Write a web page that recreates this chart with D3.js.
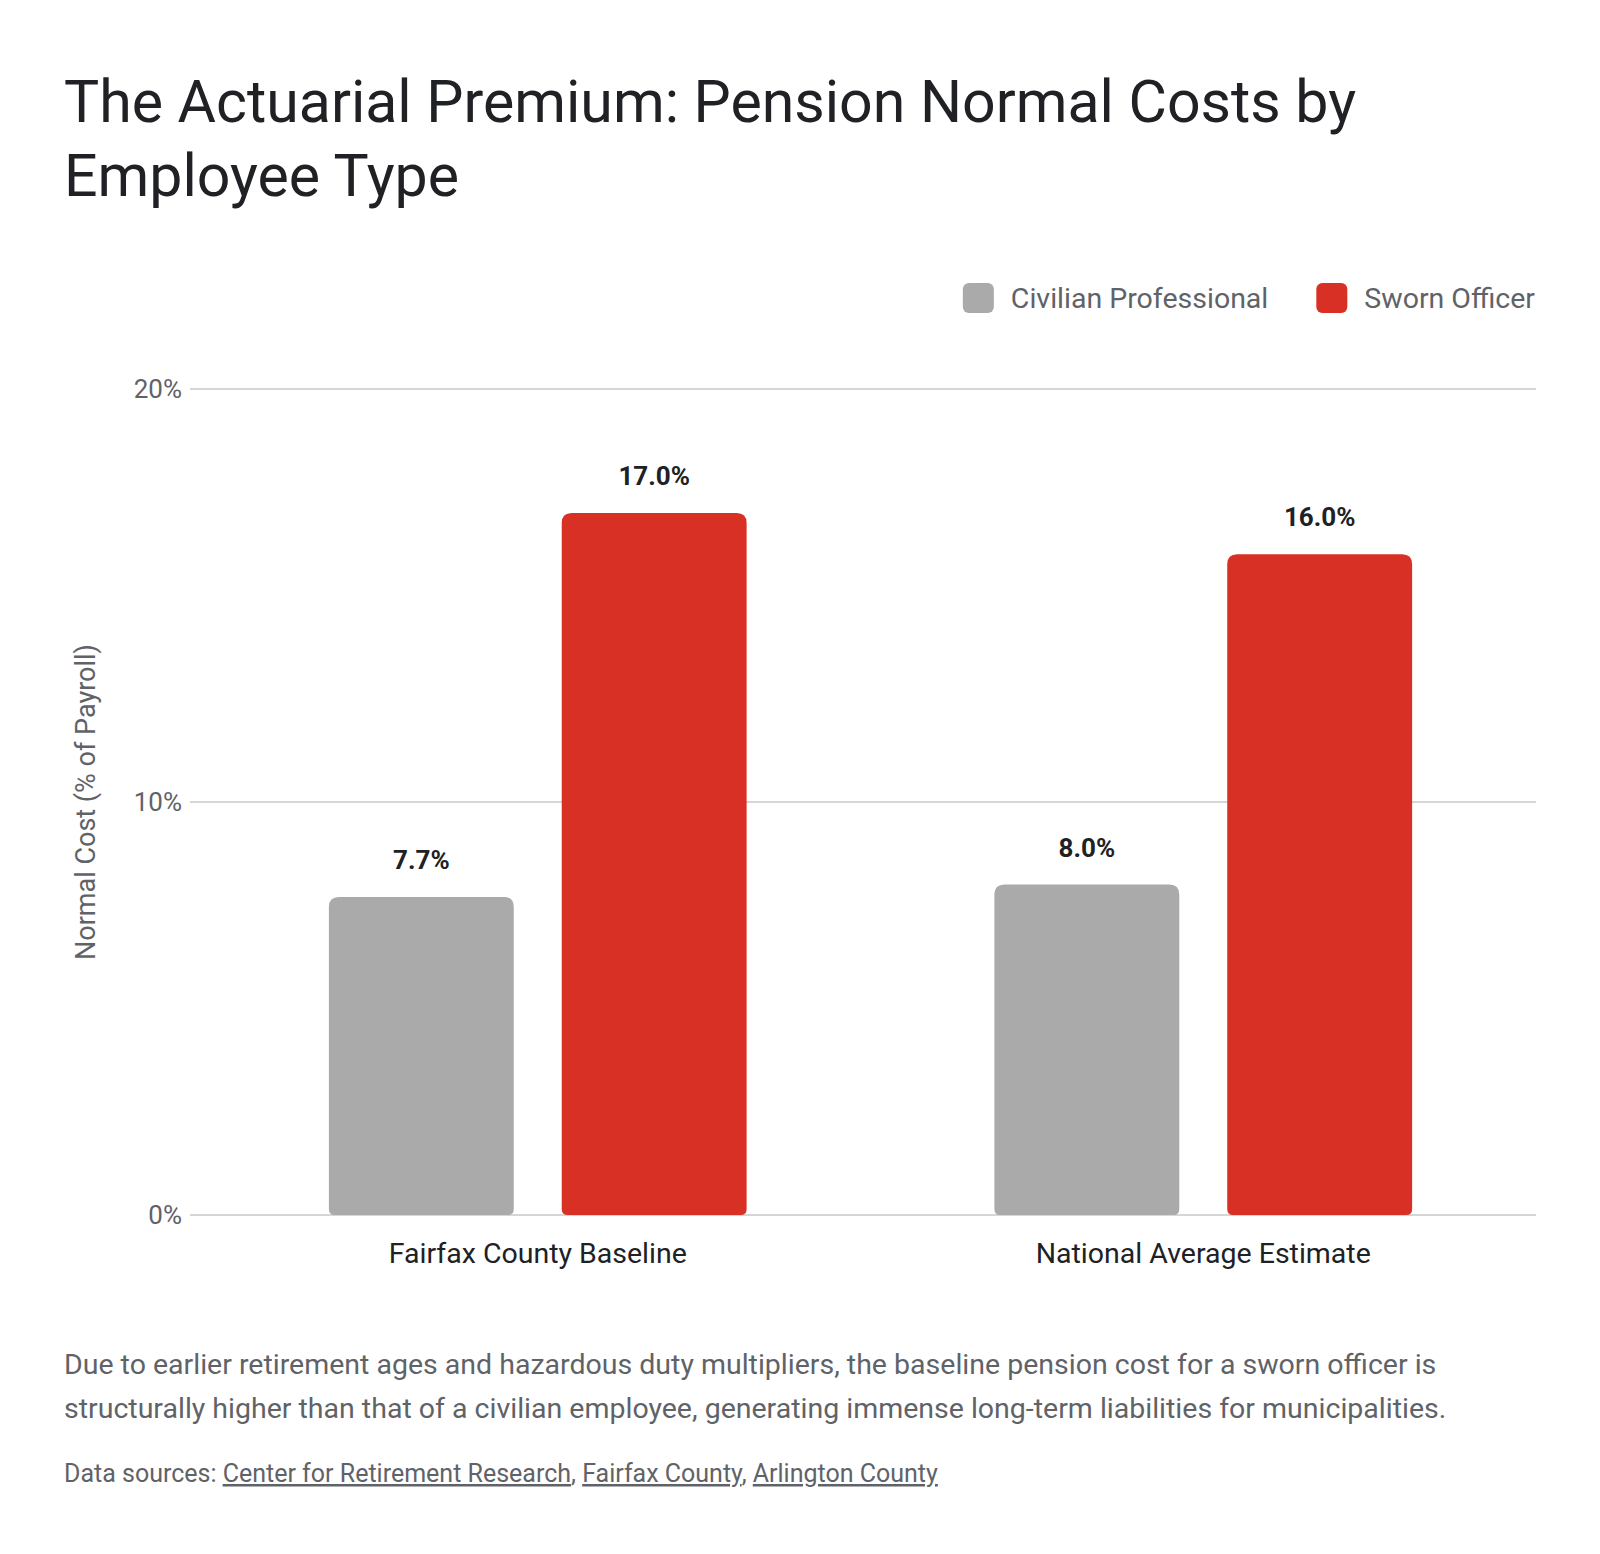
<!DOCTYPE html>
<html>
<head>
<meta charset="utf-8">
<script src="https://cdn.jsdelivr.net/npm/d3@7"></script>
<style>
  body { margin: 0; background: #fff; }
  svg { display: block; font-family: Roboto, "Noto Sans", sans-serif; }
</style>
</head>
<body>
<div id="chart"></div>
<script>
var categories = ["Fairfax County Baseline", "National Average Estimate"];
var seriesNames = ["Civilian Professional", "Sworn Officer"];
var civilian = [7.7, 8.0];
var sworn = [17.0, 16.0];
var yTicks = [0, 10, 20];
var seriesColors = ["#aaaaaa", "#d93025"];

var W = 1600, H = 1554;
var svg = d3.select("#chart").append("svg")
    .attr("width", W)
    .attr("height", H);

// title
var title = svg.append("text")
    .attr("font-size", 59)
    .attr("fill", "#202124");
title.append("tspan").attr("x", 64).attr("y", 122).text("The Actuarial Premium: Pension Normal Costs by");
title.append("tspan").attr("x", 64).attr("y", 196).text("Employee Type");

// scales
var y = d3.scaleLinear().domain([0, 20]).range([1215, 389]);
var x0 = d3.scaleBand().domain(categories).range([205, 1536]).padding(0);
var x1 = d3.scaleBand().domain(seriesNames).range([0, x0.bandwidth()])
    .paddingInner(0.206).paddingOuter(0.532);

// gridlines + tick labels
var yAxis = svg.append("g");
yAxis.selectAll("line").data(yTicks).enter().append("line")
    .attr("x1", 190).attr("x2", 1536)
    .attr("y1", function(d) { return y(d); })
    .attr("y2", function(d) { return y(d); })
    .attr("stroke", "#c8c8c8")
    .attr("stroke-width", 1.5);
yAxis.selectAll("text").data(yTicks).enter().append("text")
    .attr("x", 182)
    .attr("y", function(d) { return y(d); })
    .attr("dy", "0.35em")
    .attr("text-anchor", "end")
    .attr("font-size", 26)
    .attr("fill", "#5f6368")
    .text(function(d) { return d + "%"; });

svg.append("text")
    .attr("transform", "translate(95," + y(10) + ") rotate(-90)")
    .attr("text-anchor", "middle")
    .attr("font-size", 27)
    .attr("fill", "#5f6368")
    .text("Normal Cost (% of Payroll)");

// bars
function barPath(x, yTop, w, h, rt, rb) {
  return "M" + x + "," + (yTop + rt) +
    "Q" + x + "," + yTop + " " + (x + rt) + "," + yTop +
    "H" + (x + w - rt) +
    "Q" + (x + w) + "," + yTop + " " + (x + w) + "," + (yTop + rt) +
    "V" + (yTop + h - rb) +
    "Q" + (x + w) + "," + (yTop + h) + " " + (x + w - rb) + "," + (yTop + h) +
    "H" + (x + rb) +
    "Q" + x + "," + (yTop + h) + " " + x + "," + (yTop + h - rb) + "Z";
}

var rows = categories.map(function(c, i) {
  return { cat: c, values: [civilian[i], sworn[i]] };
});

var group = svg.selectAll("g.grp").data(rows).enter().append("g")
    .attr("class", "grp")
    .attr("transform", function(d) { return "translate(" + x0(d.cat) + ",0)"; });

group.selectAll("path").data(function(d) {
    return d.values.map(function(v, j) { return { s: seriesNames[j], v: v, j: j }; });
  }).enter().append("path")
    .attr("d", function(d) {
      return barPath(x1(d.s), y(d.v), x1.bandwidth(), y(0) - y(d.v), 10, 6);
    })
    .attr("fill", function(d) { return seriesColors[d.j]; });

group.selectAll("text.val").data(function(d) {
    return d.values.map(function(v, j) { return { s: seriesNames[j], v: v }; });
  }).enter().append("text")
    .attr("class", "val")
    .attr("x", function(d) { return x1(d.s) + x1.bandwidth() / 2; })
    .attr("y", function(d) { return y(d.v) - 28; })
    .attr("text-anchor", "middle")
    .attr("font-size", 26)
    .attr("font-weight", 700)
    .attr("fill", "#202124")
    .text(function(d) { return d.v.toFixed(1) + "%"; });

// category labels
svg.selectAll("text.cat").data(categories).enter().append("text")
    .attr("class", "cat")
    .attr("x", function(d) { return x0(d) + x0.bandwidth() / 2; })
    .attr("y", 1263)
    .attr("text-anchor", "middle")
    .attr("font-size", 28.5)
    .attr("fill", "#202124")
    .text(function(d) { return d; });

// legend, right aligned
var legend = svg.append("g");
var lx = 1535;
for (var k = seriesNames.length - 1; k >= 0; k--) {
  var t = legend.append("text")
      .attr("y", 298).attr("dy", "0.35em")
      .attr("font-size", 28.5)
      .attr("fill", "#5f6368")
      .text(seriesNames[k]);
  var tw = t.node().getComputedTextLength();
  t.attr("x", lx - tw);
  legend.append("rect")
      .attr("x", lx - tw - 48).attr("y", 283)
      .attr("width", 31).attr("height", 30)
      .attr("rx", 6)
      .attr("fill", seriesColors[k]);
  lx = lx - tw - 48 - 48;
}

// caption
var cap = svg.append("text").attr("font-size", 28.5).attr("fill", "#5f6368");
cap.append("tspan").attr("x", 64).attr("y", 1374)
    .text("Due to earlier retirement ages and hazardous duty multipliers, the baseline pension cost for a sworn officer is");
cap.append("tspan").attr("x", 64).attr("y", 1418)
    .text("structurally higher than that of a civilian employee, generating immense long-term liabilities for municipalities.");

var src = svg.append("text").attr("x", 64).attr("y", 1482)
    .attr("font-size", 25).attr("fill", "#5f6368");
src.append("tspan").text("Data sources: ");
src.append("tspan").attr("text-decoration", "underline").text("Center for Retirement Research");
src.append("tspan").text(", ");
src.append("tspan").attr("text-decoration", "underline").text("Fairfax County");
src.append("tspan").text(", ");
src.append("tspan").attr("text-decoration", "underline").text("Arlington County");
</script>
</body>
</html>
